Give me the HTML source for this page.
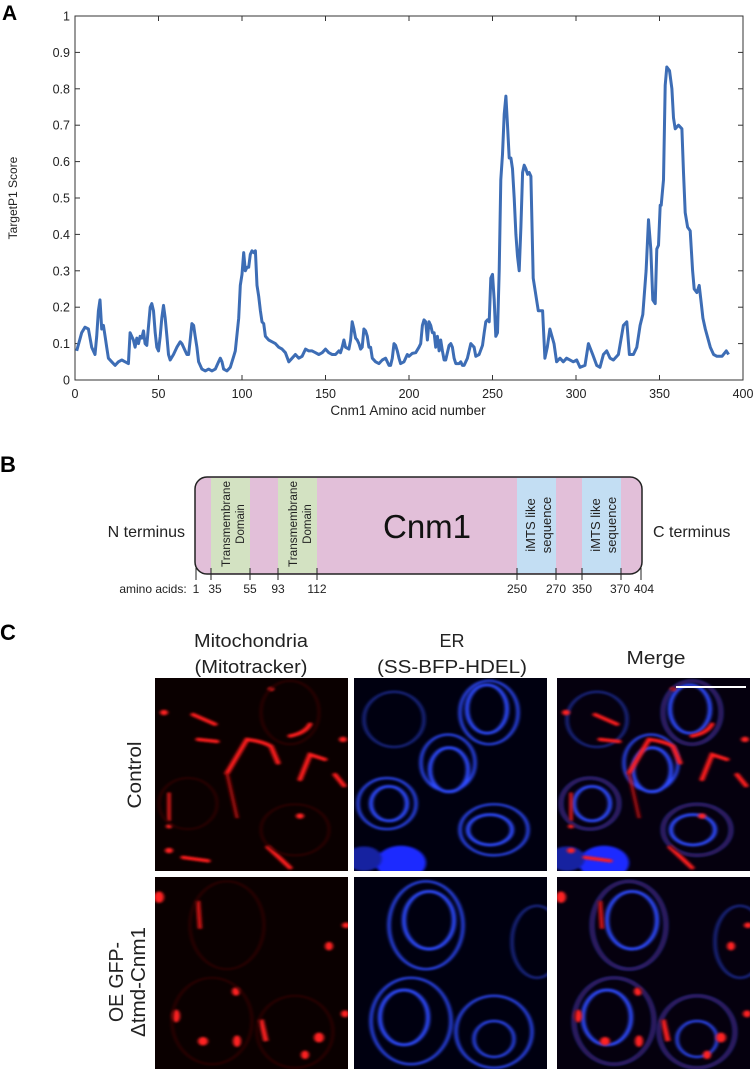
<!DOCTYPE html>
<html><head><meta charset="utf-8"><style>
html,body{margin:0;padding:0;background:#fff;overflow:hidden}
svg{display:block;font-family:"Liberation Sans",Arial,sans-serif}
</style></head><body>
<svg id="fig" width="755" height="1069" viewBox="0 0 755 1069" xmlns="http://www.w3.org/2000/svg">
<defs>
<filter id="blr" x="-20%" y="-20%" width="140%" height="140%"><feGaussianBlur stdDeviation="1.5"/></filter>
<clipPath id="c1"><rect x="0" y="0" width="193" height="193"/></clipPath>
<clipPath id="c2"><rect x="0" y="0" width="193" height="192"/></clipPath>
<g id="mitoA">
<g fill="none" stroke="#ff1a1a" stroke-width="5" stroke-linecap="round" filter="url(#blr)">
<path d="M38 53 L60 67"/><path d="M135 84 Q150 80 155 67"/><path d="M72 138 L92 89 Q108 92 116 99 L123 123"/><path d="M72 138 L82 202" stroke-width="3" stroke="#c01010"/><path d="M145 147 L155 111 L170 118"/><path d="M43 89 L62 92"/><path d="M14 167 L14 206" stroke-width="3"/><path d="M113 245 L135 275"/><path d="M28 260 L53 265"/><path d="M180 140 L189 156"/>
</g>
<g fill="#ff2020" filter="url(#blr)"><circle cx="9" cy="50" r="4"/><circle cx="188" cy="89" r="4"/><circle cx="145" cy="200" r="4"/><circle cx="116" cy="16" r="3"/><circle cx="14" cy="250" r="4"/><circle cx="14" cy="215" r="3"/></g>
<g fill="none" stroke="#3a0606" stroke-width="2" filter="url(#blr)"><ellipse cx="135" cy="50" rx="29" ry="46"/><ellipse cx="140" cy="220" rx="34" ry="37"/><ellipse cx="33" cy="182" rx="29" ry="37"/></g>
</g>
<g id="mitoB">
<g fill="#ff2020" filter="url(#blr)"><ellipse cx="4" cy="28" rx="5" ry="8"/><path d="M43 33 L45 72" stroke="#e01515" stroke-width="4"/><ellipse cx="174" cy="96" rx="4" ry="6"/><circle cx="191" cy="67" r="4"/>
<ellipse cx="81" cy="159" rx="4" ry="6"/><ellipse cx="21" cy="193" rx="4" ry="9"/><ellipse cx="48" cy="228" rx="5" ry="6"/><path d="M106 198 L111 228" stroke="#ff2020" stroke-width="5"/><ellipse cx="150" cy="247" rx="4" ry="6"/><ellipse cx="164" cy="223" rx="5" ry="7"/><ellipse cx="82" cy="228" rx="4" ry="8"/><ellipse cx="190" cy="190" rx="4" ry="5"/></g>
<g fill="none" stroke="#3a0606" stroke-width="2" filter="url(#blr)"><ellipse cx="72" cy="67" rx="37" ry="61"/><ellipse cx="57" cy="200" rx="40" ry="60"/><ellipse cx="140" cy="215" rx="38" ry="50"/></g>
</g>
<g id="erA" fill="none" stroke="#2f4cff" filter="url(#blr)">
<ellipse cx="135" cy="50" rx="29" ry="46" stroke-width="3"/><ellipse cx="133" cy="45" rx="20" ry="35" stroke-width="4"/>
<ellipse cx="94" cy="123" rx="27" ry="41" stroke-width="3"/><ellipse cx="95" cy="133" rx="19" ry="32" stroke-width="4"/>
<ellipse cx="33" cy="182" rx="29" ry="37" stroke-width="3"/><ellipse cx="35" cy="182" rx="18" ry="25" stroke-width="4"/>
<ellipse cx="140" cy="220" rx="34" ry="37" stroke-width="3"/><ellipse cx="136" cy="220" rx="22" ry="22" stroke-width="4"/>
<ellipse cx="40" cy="60" rx="30" ry="40" stroke="#1a2a90" stroke-width="3"/>
<circle cx="47" cy="268" r="25" fill="#1a2cff" stroke="none"/><circle cx="10" cy="262" r="18" fill="#1420a0" stroke="none"/>
</g>
<g id="erB" fill="none" stroke="#2f4cff" filter="url(#blr)">
<ellipse cx="72" cy="67" rx="37" ry="61" stroke-width="3"/><ellipse cx="75" cy="60" rx="25" ry="40" stroke-width="4"/><ellipse cx="183" cy="90" rx="25" ry="50" stroke="#1a2a90" stroke-width="3"/>
<ellipse cx="57" cy="200" rx="40" ry="60" stroke-width="3"/><ellipse cx="50" cy="195" rx="24" ry="38" stroke-width="4"/>
<ellipse cx="140" cy="215" rx="38" ry="50" stroke-width="3"/><ellipse cx="140" cy="225" rx="20" ry="25" stroke-width="3"/>
</g>
</defs>

<!-- Panel A -->
<text x="2" y="20" font-size="21" font-weight="bold">A</text>
<g id="chart">
<rect x="75" y="16" width="668" height="364" fill="none" stroke="#333" stroke-width="1"/>
<g id="yticks"></g>
<g id="xticks"></g>
<path id="series" fill="none" stroke="#3d6db5" stroke-width="3" stroke-linejoin="round"/>
<text x="408" y="415" text-anchor="middle" font-size="13.5" fill="#222">Cnm1 Amino acid number</text>
<text transform="translate(17,198) rotate(-90)" text-anchor="middle" font-size="12" fill="#222">TargetP1 Score</text>
</g>

<!-- Panel B -->
<text x="0" y="472" font-size="22" font-weight="bold">B</text>
<g>
<rect x="195" y="477" width="447" height="97" rx="12" fill="#e2bfd9"/>
<rect x="211" y="478" width="39" height="95" fill="#d3e2c2"/>
<rect x="278" y="478" width="39" height="95" fill="#d3e2c2"/>
<rect x="517" y="478" width="39" height="95" fill="#c3def3"/>
<rect x="582" y="478" width="39" height="95" fill="#c3def3"/>
<rect x="195" y="477" width="447" height="97" rx="12" fill="none" stroke="#222" stroke-width="1.5"/>
<g font-size="11.5" fill="#222" text-anchor="middle">
<text transform="translate(230,524) rotate(-90)" textLength="86" lengthAdjust="spacingAndGlyphs">Transmembrane</text><text transform="translate(244,524) rotate(-90)">Domain</text>
<text transform="translate(297,524) rotate(-90)" textLength="86" lengthAdjust="spacingAndGlyphs">Transmembrane</text><text transform="translate(311,524) rotate(-90)">Domain</text>
<text transform="translate(535,525) rotate(-90)" font-size="13">iMTS like</text><text transform="translate(551,525) rotate(-90)" font-size="13">sequence</text>
<text transform="translate(600,525) rotate(-90)" font-size="13">iMTS like</text><text transform="translate(616,525) rotate(-90)" font-size="13">sequence</text>
</g>
<text x="427" y="538" text-anchor="middle" font-size="33" fill="#111">Cnm1</text>
<text x="185" y="537" text-anchor="end" font-size="16" fill="#222">N terminus</text>
<text x="653" y="537" font-size="16" fill="#222">C terminus</text>
<g stroke="#222" stroke-width="1">
<line x1="196" y1="568" x2="196" y2="580"/><line x1="211" y1="568" x2="211" y2="580"/><line x1="250" y1="568" x2="250" y2="580"/><line x1="278" y1="568" x2="278" y2="580"/><line x1="317" y1="568" x2="317" y2="580"/><line x1="517" y1="568" x2="517" y2="580"/><line x1="556" y1="568" x2="556" y2="580"/><line x1="582" y1="568" x2="582" y2="580"/><line x1="621" y1="568" x2="621" y2="580"/><line x1="641" y1="568" x2="641" y2="580"/>
</g>
<g font-size="12" fill="#222" text-anchor="middle">
<text x="153" y="593">amino acids:</text><text x="196" y="593">1</text><text x="215" y="593">35</text><text x="250" y="593">55</text><text x="278" y="593">93</text><text x="317" y="593">112</text><text x="517" y="593">250</text><text x="556" y="593">270</text><text x="582" y="593">350</text><text x="620" y="593">370</text><text x="644" y="593">404</text>
</g>
</g>

<!-- Panel C -->
<text x="0" y="640" font-size="22" font-weight="bold">C</text>
<g font-size="18" fill="#222" text-anchor="middle">
<text x="251" y="647" textLength="114" lengthAdjust="spacingAndGlyphs">Mitochondria</text><text x="251" y="673" textLength="113" lengthAdjust="spacingAndGlyphs">(Mitotracker)</text>
<text x="452" y="647">ER</text><text x="452" y="673" textLength="150" lengthAdjust="spacingAndGlyphs">(SS-BFP-HDEL)</text>
<text x="656" y="664" textLength="59" lengthAdjust="spacingAndGlyphs">Merge</text>
<text transform="translate(141,775) rotate(-90)" text-anchor="middle" font-size="19" textLength="67" lengthAdjust="spacingAndGlyphs">Control</text>
<text transform="translate(123,982) rotate(-90)" font-size="20" textLength="80" lengthAdjust="spacingAndGlyphs">OE GFP-</text>
<text transform="translate(145,982) rotate(-90)" font-size="20" textLength="110" lengthAdjust="spacingAndGlyphs">Δtmd-Cnm1</text>
</g>
<g transform="translate(155,678)" clip-path="url(#c1)"><rect width="193" height="193" fill="#0a0000"/><g transform="scale(1,0.69)"><use href="#mitoA"/></g></g>
<g transform="translate(354,678)" clip-path="url(#c1)"><rect width="193" height="193" fill="#000010"/><g transform="scale(1,0.69)"><use href="#erA"/></g></g>
<g transform="translate(557,678)" clip-path="url(#c1)"><rect width="193" height="193" fill="#05000e"/><g transform="scale(1,0.69)"><use href="#erA"/><use href="#mitoA"/></g>
<line x1="119" y1="9" x2="189" y2="9" stroke="#fff" stroke-width="2"/></g>
<g transform="translate(155,877)" clip-path="url(#c2)"><rect width="193" height="192" fill="#0a0000"/><g transform="scale(1,0.72)"><use href="#mitoB"/></g></g>
<g transform="translate(354,877)" clip-path="url(#c2)"><rect width="193" height="192" fill="#000010"/><g transform="scale(1,0.72)"><use href="#erB"/></g></g>
<g transform="translate(557,877)" clip-path="url(#c2)"><rect width="193" height="192" fill="#05000e"/><g transform="scale(1,0.72)"><use href="#erB"/><use href="#mitoB"/></g></g>
</svg>
<script>
const aminoAcids=[1,4,6,8,10,12,13,14,15,16,17,18,19,20,22,24,26,28,30,32,33,35,36,37,38,39,40,41,42,43,45,46,47,48,49,50,51,52,53,54,55,56,57,59,61,63,64,66,67,68,69,70,71,72,73,74,76,78,80,82,84,86,87,88,89,91,93,95,96,98,99,100,101,102,103,104,105,106,107,108,109,110,111,112,113,114,116,118,120,122,124,126,128,130,132,134,136,138,140,142,144,146,148,150,152,154,156,158,159,160,161,162,164,165,166,167,168,169,170,171,172,173,174,175,176,177,178,180,182,184,186,188,189,190,191,192,193,194,195,197,199,200,202,204,206,207,208,209,210,211,212,213,214,215,216,217,218,219,220,221,222,224,225,226,227,228,230,231,232,233,235,236,237,239,240,242,244,245,246,247,248,249,250,251,252,253,254,255,256,257,258,259,260,261,262,263,264,265,266,267,268,269,270,271,272,273,274.4,277.4,280,281.4,282.8,284.4,286.8,288.4,290.4,292.4,294.4,298.4,300.4,302.4,305.4,307.4,310,312.4,314.4,316.4,318.4,320.4,322.4,325.4,328.4,330.4,332,334.4,336.4,338.4,340,342,343.4,344.8,346,347.4,348.4,349.4,350.4,351,352.4,353.4,354.4,356,357.4,358.4,359.4,361.4,363.4,364.4,365.4,366.8,368.4,369.8,370.8,372.4,373.8,375,376,377.4,380.4,382.4,384.4,387.4,390,391.4,393.8];
const scores=[0.08,0.13,0.145,0.14,0.09,0.07,0.12,0.19,0.22,0.14,0.15,0.12,0.09,0.06,0.05,0.04,0.05,0.055,0.05,0.045,0.13,0.11,0.09,0.115,0.10,0.12,0.115,0.135,0.10,0.095,0.20,0.21,0.19,0.13,0.09,0.08,0.12,0.17,0.205,0.17,0.12,0.07,0.055,0.07,0.09,0.105,0.10,0.08,0.07,0.07,0.11,0.155,0.15,0.12,0.09,0.05,0.03,0.025,0.03,0.025,0.03,0.05,0.06,0.05,0.03,0.025,0.035,0.065,0.08,0.17,0.26,0.29,0.35,0.30,0.31,0.31,0.345,0.355,0.35,0.355,0.26,0.23,0.19,0.16,0.155,0.12,0.11,0.105,0.10,0.09,0.085,0.075,0.05,0.06,0.07,0.06,0.065,0.085,0.08,0.08,0.075,0.07,0.075,0.085,0.075,0.07,0.07,0.08,0.075,0.09,0.11,0.09,0.085,0.11,0.16,0.14,0.115,0.11,0.10,0.085,0.09,0.14,0.135,0.12,0.09,0.09,0.06,0.05,0.045,0.055,0.06,0.04,0.04,0.06,0.10,0.095,0.08,0.06,0.045,0.05,0.07,0.065,0.073,0.075,0.09,0.10,0.15,0.165,0.16,0.11,0.16,0.15,0.13,0.13,0.09,0.12,0.08,0.11,0.08,0.055,0.055,0.095,0.10,0.09,0.06,0.045,0.045,0.05,0.04,0.04,0.06,0.08,0.10,0.09,0.065,0.07,0.095,0.13,0.16,0.165,0.16,0.28,0.29,0.22,0.12,0.13,0.30,0.55,0.62,0.73,0.78,0.70,0.61,0.61,0.58,0.50,0.40,0.34,0.30,0.42,0.57,0.59,0.58,0.565,0.57,0.56,0.28,0.19,0.19,0.06,0.09,0.14,0.10,0.05,0.06,0.05,0.06,0.05,0.055,0.035,0.04,0.10,0.07,0.04,0.035,0.07,0.08,0.06,0.055,0.07,0.15,0.16,0.07,0.07,0.09,0.15,0.18,0.30,0.44,0.36,0.22,0.21,0.36,0.37,0.48,0.48,0.55,0.81,0.86,0.85,0.80,0.72,0.69,0.70,0.69,0.57,0.46,0.42,0.41,0.30,0.25,0.24,0.26,0.21,0.17,0.14,0.09,0.07,0.065,0.065,0.08,0.07];
const xTickLabels=["0","50","100","150","200","250","300","350","400"];
const yTickLabels=["0","0.1","0.2","0.3","0.4","0.5","0.6","0.7","0.8","0.9","1"];
const X0=75,X1=743,Y0=380,Y1=16,XMAX=400,YMAX=1;
function sx(v){return X0+(v/XMAX)*(X1-X0);}
function sy(v){return Y0-(v/YMAX)*(Y0-Y1);}
const NS="http://www.w3.org/2000/svg";
let d="";
for(let i=0;i<aminoAcids.length;i++){d+=(i?"L":"M")+sx(aminoAcids[i]).toFixed(1)+" "+sy(scores[i]).toFixed(1);}
document.getElementById("series").setAttribute("d",d);
const xg=document.getElementById("xticks");
xTickLabels.forEach(function(t){
  const x=sx(parseFloat(t));
  const l1=document.createElementNS(NS,"line");
  l1.setAttribute("x1",x);l1.setAttribute("x2",x);l1.setAttribute("y1",Y0);l1.setAttribute("y2",Y0-5);l1.setAttribute("stroke","#333");
  
  
  xg.appendChild(l1);
  const l2=document.createElementNS(NS,"line");
  l2.setAttribute("x1",x);l2.setAttribute("x2",x);l2.setAttribute("y1",Y1);l2.setAttribute("y2",Y1+5);l2.setAttribute("stroke","#333");
  
  
  xg.appendChild(l2);
  const tx=document.createElementNS(NS,"text");
  tx.setAttribute("x",x);tx.setAttribute("y",Y0+18);tx.setAttribute("text-anchor","middle");tx.setAttribute("font-size","12.5");tx.setAttribute("fill","#222");
  tx.textContent=t;
  
  
  xg.appendChild(tx);
});
const yg=document.getElementById("yticks");
yTickLabels.forEach(function(t){
  const y=sy(parseFloat(t));
  const l1=document.createElementNS(NS,"line");
  l1.setAttribute("x1",X0);l1.setAttribute("x2",X0+5);l1.setAttribute("y1",y);l1.setAttribute("y2",y);l1.setAttribute("stroke","#333");
  
  
  yg.appendChild(l1);
  const l2=document.createElementNS(NS,"line");
  l2.setAttribute("x1",X1);l2.setAttribute("x2",X1-5);l2.setAttribute("y1",y);l2.setAttribute("y2",y);l2.setAttribute("stroke","#333");
  
  
  yg.appendChild(l2);
  const tx=document.createElementNS(NS,"text");
  tx.setAttribute("x",X0-5);tx.setAttribute("y",y+4.5);tx.setAttribute("text-anchor","end");tx.setAttribute("font-size","12.5");tx.setAttribute("fill","#222");
  tx.textContent=t;
  
  
  yg.appendChild(tx);
});
</script>
</body></html>
